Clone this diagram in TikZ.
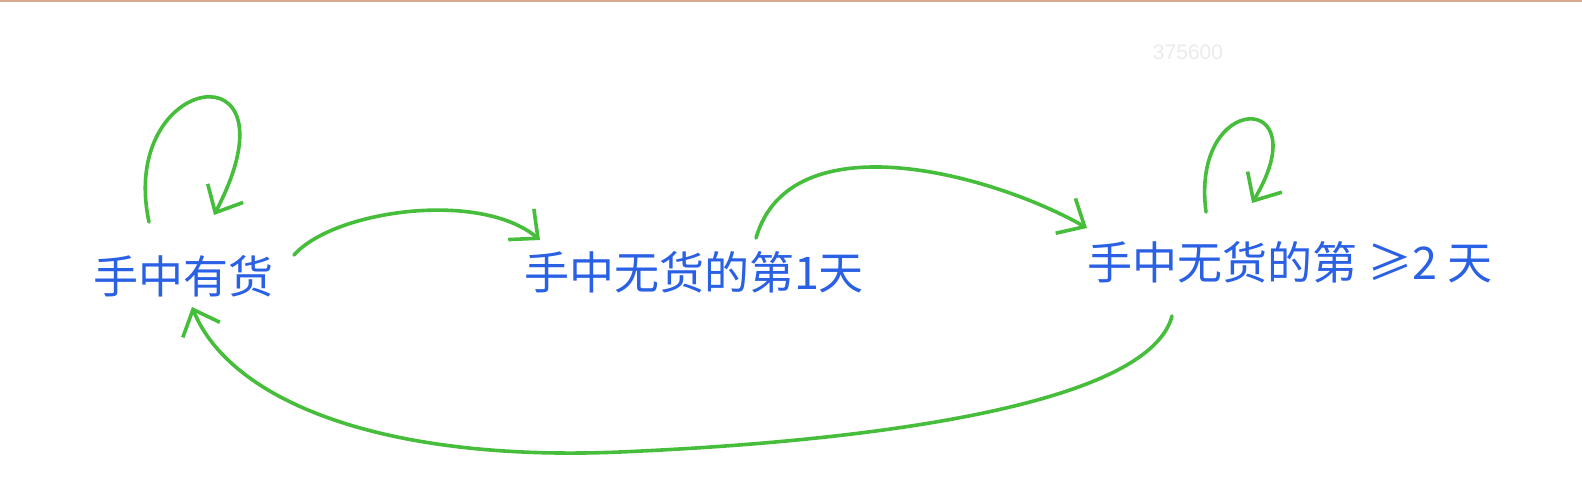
\documentclass[tikz,border=0pt]{standalone}
\usepackage{fontspec}
\newfontfamily\cjk{Noto Sans CJK SC}
\newfontfamily\numfont{Liberation Sans}
\usetikzlibrary{arrows.meta,calc}
\definecolor{penblue}{RGB}{42,96,228}
\definecolor{pengreen}{RGB}{70,190,60}
\definecolor{topline}{RGB}{214,168,140}
\tikzset{state/.style={font=\cjk\fontsize{22.5}{26}\selectfont,text=penblue,inner sep=0pt},flow/.style={-{Straight Barb[length=11pt,width=20pt]},line width=1.8pt,draw=pengreen,line cap=round}}

\begin{document}
\begin{tikzpicture}[x=0.5pt,y=-0.5pt]
\useasboundingbox (0,0) rectangle (1582,492);
\fill[white] (0,0) rectangle (1582,492);
\draw[topline,line width=1pt] (0,1)--(1582,1);
\node[font=\numfont\fontsize{10.5}{12}\selectfont,text=black!8,inner sep=0pt] (mark) at (1188,52) {375600};
\node[state] (has) at (183,276) {手中有货};
\node[state] (day1) at (694,272) {手中无货的第1天};
\node[state] (day2) at (1290,262) {手中无货的第 ≥2 天};
\draw[flow] ($(has)+(-34,-54)$) .. controls +(-32,-150) and +(90,-172) .. ($(has)+(31,-61)$);
\draw[flow] ($(has)+(111,-21)$) .. controls +(40,-45) and +(-60,-50) .. ($(day1)+(-154,-32)$);
\draw[flow] ($(day1)+(62,-34)$) .. controls +(34,-118) and +(-97,-55) .. ($(day2)+(-203,-34)$);
\draw[flow] ($(day2)+(-84,-50)$) .. controls +(-16,-122) and +(68,-113) .. ($(day2)+(-38,-59)$);
\draw[flow] ($(day2)+(-118,54)$) .. controls +(-22,84) and +(280,-12) .. ($(has)+(437,176)$)
  .. controls +(-240,10) and +(38,93) .. ($(has)+(9,31)$);
\end{tikzpicture}
\end{document}
